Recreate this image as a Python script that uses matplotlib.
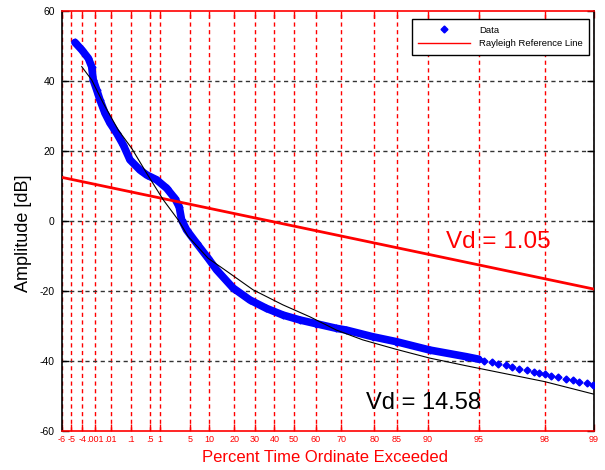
import numpy as np
import matplotlib
matplotlib.use("Agg")
import matplotlib.pyplot as plt
from matplotlib.lines import Line2D

plt.rcParams['font.family'] = ['Liberation Sans', 'DejaVu Sans']

# ---- data (percent time exceeded, amplitude dB) ----
data_pct = [2.3e-5, 9.2e-5, 3.15e-4, 5.7e-4, 7.4e-4, 1.29e-3, 2.16e-3, 4.5e-3,
            8.9e-3, 0.0206, 0.0435, 0.088, 0.222, 0.384, 0.80, 1.51, 2.39, 2.99,
            3.36, 4.23, 6.41, 9.7, 12.6, 19.4, 27.4, 35.9, 44.4, 52.7, 60.3, 68.3,
            71.8, 79.6, 84.9, 90.3, 94.1, 95.0, 95.39, 95.82, 96.20, 96.56, 96.87,
            97.16, 97.43, 97.67, 97.85, 98.0, 98.17, 98.35, 98.51, 98.65, 98.77,
            98.89, 98.98]
data_db = [50.9, 48.8, 46.4, 44.0, 40.2, 37.4, 34.5, 30.7, 27.9, 25.0, 21.7, 17.4,
           14.5, 13.1, 11.7, 9.3, 6.4, 4.0, 0.25, -2.6, -6.4, -10.7, -14.0, -19.2,
           -22.6, -25.0, -26.9, -28.3, -29.4, -30.7, -31.2, -33.1, -34.5, -36.9,
           -38.8, -39.5, -40.0, -40.4, -40.9, -41.3, -41.8, -42.2, -42.7, -43.1,
           -43.5, -43.8, -44.2, -44.6, -45.1, -45.5, -45.9, -46.4, -47.0]

ref_pct = [1e-6, 99]
ref_db = [12.4, -19.5]

fit_pct = [9.2e-5, 5.7e-4, 3.5e-3, 0.0249, 0.104, 0.384, 1.23, 2.84, 4.54, 9.7,
           15.8, 29.0, 44.4, 57.4, 68.3, 76.9, 84.9, 90.3, 94.1, 98.0, 99.0]
fit_db = [44.0, 40.2, 33.6, 25.9, 20.7, 13.6, 6.0, 0.25, -4.5, -10.7, -14.0,
          -19.7, -24.0, -27.4, -31.2, -34.0, -36.7, -39.2, -41.4, -45.9, -49.5]

xtick_vals = [1e-6, 1e-5, 1e-4, 0.001, 0.01, 0.1, 0.5, 1, 5, 10, 20, 30, 40, 50,
              60, 70, 80, 85, 90, 95, 98, 99]
xtick_labels = ['-6', '-5', '-4', '.001', '.01', '.1', '.5', '1', '5', '10', '20',
                '30', '40', '50', '60', '70', '80', '85', '90', '95', '98', '99']
ytick_vals = [-60, -40, -20, 0, 20, 40, 60]


def fwd(p):
    p = np.asarray(p, dtype=float)
    with np.errstate(all='ignore'):
        return -np.log(-np.log(p / 100.0))


def inv(t):
    t = np.asarray(t, dtype=float)
    with np.errstate(all='ignore'):
        return 100.0 * np.exp(-np.exp(-t))


fig = plt.figure(figsize=(6.05, 4.70), dpi=100)
ax = fig.add_axes([0.1021, 0.083, 0.8797, 0.8945])
ax.set_xscale('function', functions=(fwd, inv))
ax.set_xlim(1e-6, 99)
ax.set_ylim(-60, 60)

dp = np.array(data_pct)
dd = np.array(data_db)
dense = dp <= 95.0
ax.plot(dp[dense], dd[dense], color='#0000ff', lw=5.5, solid_capstyle='round',
        solid_joinstyle='round', zorder=3)
ax.plot(dp, dd, linestyle='none', marker='D', ms=3.5, color='#0000ff',
        mec='#0000ff', zorder=3)
ax.plot(ref_pct, ref_db, color='#ff0000', lw=2, zorder=4)
ax.plot(fit_pct, fit_db, color='black', lw=0.8, zorder=5)

ax.set_xticks(xtick_vals)
ax.set_xticklabels(xtick_labels)
ax.xaxis.set_minor_locator(matplotlib.ticker.NullLocator())
ax.set_yticks(ytick_vals)
ax.set_yticklabels([str(v) for v in ytick_vals])

ax.tick_params(axis='x', colors='#ff0000', direction='in', length=5, width=1,
               top=True, labelsize=6.5, pad=3)
ax.tick_params(axis='y', colors='black', direction='in', length=5, width=1,
               right=True, labelsize=7.5, pad=5)

for xv in xtick_vals:
    ax.axvline(xv, color='#ff0000', lw=1, linestyle=(0, (3, 2.5)), zorder=1)
for yv in [-40, -20, 0, 20, 40]:
    ax.axhline(yv, color='#333333', lw=1, linestyle=(0, (3, 2.5)), zorder=1)

ax.spines['top'].set_color('#ff0000')
ax.spines['bottom'].set_color('#ff0000')
ax.spines['left'].set_color('black')
ax.spines['right'].set_color('black')
for s in ax.spines.values():
    s.set_linewidth(1.2)

ax.set_xlabel('Percent Time Ordinate Exceeded', color='#ff0000', fontsize=12)
ax.xaxis.set_label_coords(0.4946, -0.046)
ax.set_ylabel('Amplitude [dB]', color='black', fontsize=13)
ax.yaxis.set_label_coords(-0.056, 0.47)

ax.text(0.722, 0.435, 'Vd = 1.05', transform=ax.transAxes, color='#ff0000',
        fontsize=17.5, ha='left', va='baseline')
ax.text(0.5716, 0.0523, 'Vd = 14.58', transform=ax.transAxes, color='black',
        fontsize=17, ha='left', va='baseline')

handles = [Line2D([], [], linestyle='none', marker='D', ms=3.5, color='#0000ff'),
           Line2D([], [], color='#ff0000', lw=1)]
leg = ax.legend(handles, ['Data', 'Rayleigh Reference Line'], loc='upper right',
                bbox_to_anchor=(0.991, 0.980), borderaxespad=0, fontsize=6.8,
                handlelength=5.5, handletextpad=0.9, borderpad=0.7,
                labelspacing=0.5, fancybox=False, framealpha=1,
                edgecolor='black')
leg.get_frame().set_linewidth(1)
leg.set_zorder(10)

fig.savefig('out.png', dpi=100)
